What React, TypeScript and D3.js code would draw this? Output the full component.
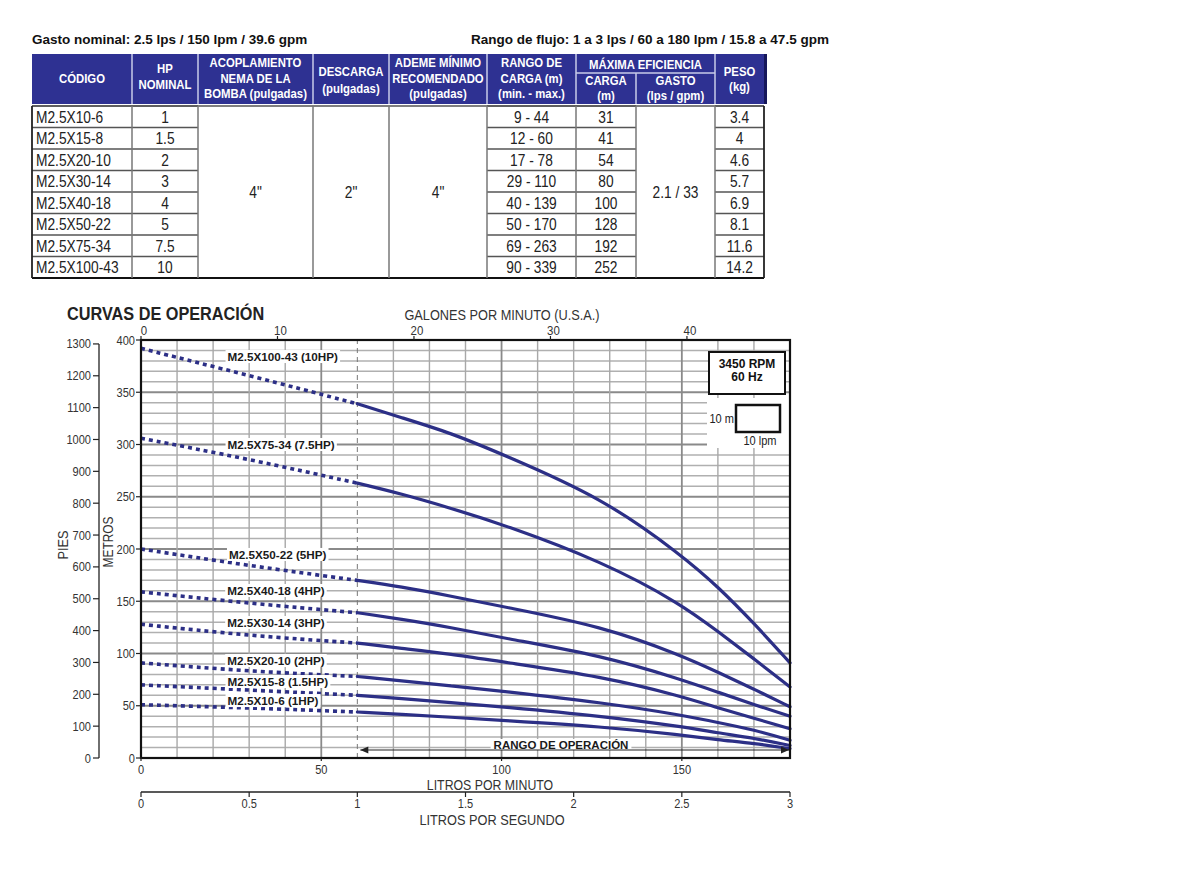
import React, { useEffect, useRef } from "react";
import * as d3 from "d3";

// ---------- table data ----------
const codes = ["M2.5X10-6", "M2.5X15-8", "M2.5X20-10", "M2.5X30-14", "M2.5X40-18", "M2.5X50-22", "M2.5X75-34", "M2.5X100-43"];
const hpNominal = ["1", "1.5", "2", "3", "4", "5", "7.5", "10"];
const rangoCarga = ["9 - 44", "12 - 60", "17 - 78", "29 - 110", "40 - 139", "50 - 170", "69 - 263", "90 - 339"];
const cargaMax = ["31", "41", "54", "80", "100", "128", "192", "252"];
const peso = ["3.4", "4", "4.6", "5.7", "6.9", "8.1", "11.6", "14.2"];
const acoplamiento = '4"';
const descarga = '2"';
const ademe = '4"';
const gastoMax = "2.1 / 33";

// ---------- curve data (flow in lpm, head in m) ----------
const flowLpm = [0, 30, 60, 72, 86, 100, 128, 150, 160, 170, 180];
const head1hp = [51, 48, 44, 42, 39, 36, 30, 22, 17.5, 14, 9];
const head15hp = [70, 65, 60, 57, 53, 49, 40, 30, 24, 19, 12];
const head2hp = [91, 83, 78, 74, 69, 64, 53, 41, 34, 27, 17];
const head3hp = [128, 117, 110, 105, 99.5, 92, 78, 59, 48, 38, 28];
const head4hp = [159, 148, 139, 133, 125, 115, 98, 75, 63, 51, 40];
const head5hp = [200, 184, 170, 164, 155, 145, 126, 98, 82, 66, 49];
const head75hp = [306, 286, 263, 253, 239, 224, 188, 147, 121, 95, 68];
const head10hp = [392, 366, 339, 326, 311, 291, 249, 194, 164, 129, 91];
const curveNames = ["M2.5X10-6 (1HP)", "M2.5X15-8 (1.5HP)", "M2.5X20-10 (2HP)", "M2.5X30-14 (3HP)", "M2.5X40-18 (4HP)", "M2.5X50-22 (5HP)", "M2.5X75-34 (7.5HP)", "M2.5X100-43 (10HP)"];
const opStartLpm = 60;

// ---------- axis ticks ----------
const lpmTicks = [0, 50, 100, 150];
const gpmTicks = [0, 10, 20, 30, 40];
const lpsTicks = [0, 0.5, 1, 1.5, 2, 2.5, 3];
const lpsTickLabels = ["0", "0.5", "1", "1.5", "2", "2.5", "3"];
const metrosTicks = [0, 50, 100, 150, 200, 250, 300, 350, 400];
const piesTicks = [0, 100, 200, 300, 400, 500, 600, 700, 800, 900, 1000, 1100, 1200, 1300];

// layout: label anchor (lpm, m) for each curve name
const labelAnchorLpm = [24, 24, 23.9, 23.9, 23.9, 24.4, 24, 24];
const labelAnchorM = [54.5, 72.7, 92.8, 129.2, 159.8, 194.3, 299.5, 383.7];

const NAVY = "#2c2f86";
const HEADER = "#2e3192";
const SANS = "'Liberation Sans', Arial, sans-serif";

type Opt = { size: number; weight?: string; anchor?: string; fill?: string; sx?: number; rot?: number };

export default function App() {
  const ref = useRef<SVGSVGElement | null>(null);

  useEffect(() => {
    const svg = d3.select(ref.current);
    svg.selectAll("*").remove();

    const txt = (parent: any, x: number, y: number, t: string, o: Opt) =>
      parent.append("text")
        .attr("transform", `translate(${x},${y})${o.rot ? ` rotate(${o.rot})` : ""} scale(${o.sx ?? 1},1)`)
        .attr("text-anchor", o.anchor ?? "middle")
        .attr("font-family", SANS)
        .attr("font-weight", o.weight ?? "normal")
        .attr("font-size", o.size)
        .attr("fill", o.fill ?? "#333")
        .text(t);

    // ================= TABLE =================
    const colX = [32, 132, 198, 313, 389, 487, 576, 636, 715, 764];
    const hTop = 54, hBot = 104, subY = 73, bTop = 106, rowH = 21.5;
    const bBot = bTop + rowH * codes.length;
    const cx = (i: number) => (colX[i] + colX[i + 1]) / 2;

    txt(svg, 32, 44, "Gasto nominal: 2.5 lps / 150 lpm / 39.6 gpm", { size: 13.5, weight: "bold", anchor: "start", fill: "#111" });
    txt(svg, 471, 44, "Rango de flujo: 1 a 3 lps / 60 a 180 lpm / 15.8 a 47.5 gpm", { size: 13.5, weight: "bold", anchor: "start", fill: "#111" });

    const tbl = svg.append("g");
    tbl.append("rect").attr("x", colX[0]).attr("y", hTop).attr("width", colX[9] - colX[0] + 3).attr("height", hBot - hTop).attr("fill", HEADER);
    tbl.append("rect").attr("x", colX[9]).attr("y", hTop).attr("width", 3).attr("height", hBot - hTop).attr("fill", "#16185a");
    for (let i = 1; i < 9; i++) {
      if (i === 7) continue;
      tbl.append("line").attr("x1", colX[i]).attr("x2", colX[i]).attr("y1", hTop).attr("y2", hBot).attr("stroke", "#c9cbe8").attr("stroke-width", 1.5);
    }
    tbl.append("line").attr("x1", colX[7]).attr("x2", colX[7]).attr("y1", subY).attr("y2", hBot).attr("stroke", "#c9cbe8").attr("stroke-width", 1.5);
    tbl.append("line").attr("x1", colX[6]).attr("x2", colX[8]).attr("y1", subY).attr("y2", subY).attr("stroke", "#c9cbe8").attr("stroke-width", 1.5);

    const hdr = (x: number, y: number, t: string) => txt(tbl, x, y, t, { size: 13.2, weight: "bold", fill: "#fff", sx: 0.86 });
    hdr(cx(0), 83, "CÓDIGO");
    hdr(cx(1), 73, "HP"); hdr(cx(1), 89, "NOMINAL");
    hdr(cx(2), 67, "ACOPLAMIENTO"); hdr(cx(2), 83, "NEMA DE LA"); hdr(cx(2), 98, "BOMBA (pulgadas)");
    hdr(cx(3), 76, "DESCARGA"); hdr(cx(3), 93, "(pulgadas)");
    hdr(cx(4), 67, "ADEME MÍNIMO"); hdr(cx(4), 83, "RECOMENDADO"); hdr(cx(4), 98, "(pulgadas)");
    hdr(cx(5), 67, "RANGO DE"); hdr(cx(5), 83, "CARGA (m)"); hdr(cx(5), 98, "(min. - max.)");
    hdr((colX[6] + colX[8]) / 2, 69, "MÁXIMA EFICIENCIA");
    hdr(cx(6), 85, "CARGA"); hdr(cx(6), 100, "(m)");
    hdr(cx(7), 85, "GASTO"); hdr(cx(7), 100, "(lps / gpm)");
    hdr(cx(8), 76, "PESO"); hdr(cx(8), 91, "(kg)");

    const lineC = "#555";
    const rowCols = [[0, 2], [5, 7], [8, 9]];
    for (let r = 0; r <= codes.length; r++) {
      const yy = bTop + r * rowH;
      rowCols.forEach(([a, b]) => {
        tbl.append("line").attr("x1", colX[a]).attr("x2", colX[b]).attr("y1", yy).attr("y2", yy).attr("stroke", lineC).attr("stroke-width", 1.3);
      });
    }
    tbl.append("line").attr("x1", colX[0]).attr("x2", colX[9]).attr("y1", bTop).attr("y2", bTop).attr("stroke", lineC).attr("stroke-width", 1.3);
    tbl.append("line").attr("x1", colX[0]).attr("x2", colX[9]).attr("y1", bBot).attr("y2", bBot).attr("stroke", "#111").attr("stroke-width", 2);
    for (let i = 0; i < 10; i++) {
      tbl.append("line").attr("x1", colX[i]).attr("x2", colX[i]).attr("y1", bTop).attr("y2", bBot)
        .attr("stroke", i === 0 || i === 9 ? "#222" : "#777").attr("stroke-width", i === 0 || i === 9 ? 1.8 : 1.5);
    }
    const cell = (x: number, y: number, t: string, anchor = "middle") => txt(tbl, x, y, t, { size: 16, anchor, fill: "#222", sx: 0.86 });
    codes.forEach((c, r) => {
      const yy = bTop + r * rowH + rowH / 2 + 6;
      cell(36, yy, c, "start");
      cell(cx(1), yy, hpNominal[r]);
      cell(cx(5), yy, rangoCarga[r]);
      cell(cx(6), yy, cargaMax[r]);
      cell(cx(8), yy, peso[r]);
    });
    const midY = (bTop + bBot) / 2 + 6;
    cell(cx(2), midY, acoplamiento);
    cell(cx(3), midY, descarga);
    cell(cx(4), midY, ademe);
    cell(cx(7), midY, gastoMax);

    // ================= CHART =================
    const x = d3.scaleLinear().domain([0, 180]).range([141, 790]);
    const y = d3.scaleLinear().domain([0, 400]).range([758, 340]);
    const yFt = d3.scaleLinear().domain([0, 400 * 3.28084]).range([758, 340]);
    const xGpm = (g: number) => x(g * 3.78541);
    const xLps = d3.scaleLinear().domain([0, 3]).range([141, 790]);
    const [x0, x1] = x.range();
    const [yB, yT] = y.range();

    const ch = svg.append("g");
    txt(ch, 67, 320, "CURVAS DE OPERACIÓN", { size: 17.5, weight: "bold", anchor: "start", fill: "#222", sx: 0.93 });

    // grid
    const grid = ch.append("g");
    d3.range(10, 400, 10).forEach((m) => {
      const major = m % 50 === 0;
      grid.append("line").attr("x1", x0).attr("x2", x1).attr("y1", y(m)).attr("y2", y(m))
        .attr("stroke", major ? "#8a8a8a" : "#b0b0b0").attr("stroke-width", major ? 2 : 1.5);
    });
    d3.range(10, 180, 10).forEach((q) => {
      if (q === opStartLpm) return;
      const major = q % 50 === 0;
      grid.append("line").attr("x1", x(q)).attr("x2", x(q)).attr("y1", yB).attr("y2", yT)
        .attr("stroke", major ? "#8a8a8a" : "#a8a8a8").attr("stroke-width", major ? 1.8 : 1.4);
    });
    grid.append("line").attr("x1", x(opStartLpm)).attr("x2", x(opStartLpm)).attr("y1", yB).attr("y2", yT)
      .attr("stroke", "#777").attr("stroke-width", 1).attr("stroke-dasharray", "5 4");

    // legend blocks
    ch.append("rect").attr("x", 707).attr("y", 398).attr("width", 82).attr("height", 50).attr("fill", "#fff");
    ch.append("rect").attr("x", 709).attr("y", 352).attr("width", 76).attr("height", 42).attr("fill", "#fff").attr("stroke", "#111").attr("stroke-width", 2);
    txt(ch, 747, 368, "3450 RPM", { size: 12, weight: "bold", fill: "#111" });
    txt(ch, 747, 381, "60 Hz", { size: 12, weight: "bold", fill: "#111" });
    ch.append("rect").attr("x", 736).attr("y", 405).attr("width", 44).attr("height", 27).attr("fill", "#fff").attr("stroke", "#111").attr("stroke-width", 2.5);
    txt(ch, 734, 423, "10 m", { size: 13, anchor: "end", fill: "#222", sx: 0.85 });
    txt(ch, 760, 445, "10 lpm", { size: 13, fill: "#222", sx: 0.85 });

    // curves
    const series = [head1hp, head15hp, head2hp, head3hp, head4hp, head5hp, head75hp, head10hp];
    const line = d3.line<[number, number]>().x((d) => x(d[0])).y((d) => y(d[1])).curve(d3.curveBasis);
    series.forEach((h) => {
      const pts: [number, number][] = flowLpm.map((f, i) => [f, h[i]]);
      const dotted = pts.filter((p) => p[0] <= opStartLpm);
      const solid = pts.filter((p) => p[0] >= opStartLpm);
      ch.append("path").attr("d", line(dotted) as string).attr("fill", "none").attr("stroke", NAVY)
        .attr("stroke-width", 3.6).attr("stroke-dasharray", "4 4");
      ch.append("path").attr("d", line(solid) as string).attr("fill", "none").attr("stroke", NAVY)
        .attr("stroke-width", 3.2).attr("stroke-linecap", "round");
    });

    // curve labels with white background
    curveNames.forEach((name, i) => {
      const g = ch.append("g");
      const t = g.append("text").attr("x", x(labelAnchorLpm[i])).attr("y", y(labelAnchorM[i]) + 4)
        .attr("font-family", SANS).attr("font-weight", "bold").attr("font-size", 11.7).attr("fill", "#1a1a1a").text(name);
      const bb = (t.node() as SVGTextElement).getBBox();
      g.insert("rect", "text").attr("x", bb.x - 2).attr("y", bb.y).attr("width", bb.width + 4).attr("height", bb.height).attr("fill", "#fff");
    });

    // operating range arrow
    const arrowY = 750;
    const rg = ch.append("g");
    const rt = rg.append("text").attr("x", 561).attr("y", 749).attr("text-anchor", "middle").attr("font-family", SANS).attr("font-weight", "bold")
      .attr("font-size", 11.5).attr("fill", "#1a1a1a").text("RANGO DE OPERACIÓN");
    const rbb = (rt.node() as SVGTextElement).getBBox();
    rg.insert("rect", "text").attr("x", rbb.x - 3).attr("y", rbb.y).attr("width", rbb.width + 6).attr("height", rbb.height - 1).attr("fill", "#fff");
    const ax0 = x(opStartLpm) + 3, ax1 = x(180) - 1;
    ch.append("line").attr("x1", ax0).attr("x2", ax1).attr("y1", arrowY).attr("y2", arrowY).attr("stroke", "#222").attr("stroke-width", 1.2);
    ch.append("path").attr("d", `M${ax0},${arrowY} l8,-3.5 l0,7 z`).attr("fill", "#222");
    ch.append("path").attr("d", `M${ax1},${arrowY} l-8,-3.5 l0,7 z`).attr("fill", "#222");

    // plot frame
    ch.append("rect").attr("x", x0).attr("y", yT).attr("width", x1 - x0).attr("height", yB - yT).attr("fill", "none").attr("stroke", "#111").attr("stroke-width", 2.2);

    // metros axis
    metrosTicks.forEach((m) => {
      ch.append("line").attr("x1", x0 - 5).attr("x2", x0).attr("y1", y(m)).attr("y2", y(m)).attr("stroke", "#222").attr("stroke-width", 1.2);
      txt(ch, x0 - 6, y(m) + 4.5, String(m), { size: 13.5, anchor: "end", sx: 0.82 });
    });
    // pies axis
    const pX = 99;
    ch.append("line").attr("x1", pX).attr("x2", pX).attr("y1", yFt(1300)).attr("y2", yFt(0)).attr("stroke", "#222").attr("stroke-width", 1.3);
    piesTicks.forEach((f) => {
      ch.append("line").attr("x1", pX - 6).attr("x2", pX).attr("y1", yFt(f)).attr("y2", yFt(f)).attr("stroke", "#222").attr("stroke-width", 1.2);
      txt(ch, pX - 8, yFt(f) + 4.5, String(f), { size: 13.5, anchor: "end", sx: 0.82 });
    });
    txt(ch, 68, 545, "PIES", { size: 15, rot: -90, sx: 0.85 });
    txt(ch, 113, 542, "METROS", { size: 14, rot: -90, sx: 0.85 });

    // top gpm axis
    gpmTicks.forEach((g) => {
      ch.append("line").attr("x1", xGpm(g)).attr("x2", xGpm(g)).attr("y1", yT - 4).attr("y2", yT).attr("stroke", "#222").attr("stroke-width", 1.2);
      txt(ch, xGpm(g) + 3, 335, String(g), { size: 13.5, sx: 0.85 });
    });
    txt(ch, 502, 320, "GALONES POR MINUTO (U.S.A.)", { size: 15, sx: 0.85 });

    // bottom lpm axis
    lpmTicks.forEach((q) => {
      ch.append("line").attr("x1", x(q)).attr("x2", x(q)).attr("y1", yB).attr("y2", yB + 3).attr("stroke", "#222").attr("stroke-width", 1.2);
      txt(ch, x(q), 774, String(q), { size: 13, sx: 0.85 });
    });
    txt(ch, 490, 790, "LITROS POR MINUTO", { size: 14.5, sx: 0.85 });

    // lps axis
    const lY = 792;
    ch.append("line").attr("x1", xLps(0)).attr("x2", xLps(3)).attr("y1", lY).attr("y2", lY).attr("stroke", "#222").attr("stroke-width", 1.3);
    lpsTicks.forEach((v, i) => {
      ch.append("line").attr("x1", xLps(v)).attr("x2", xLps(v)).attr("y1", lY).attr("y2", lY + 5).attr("stroke", "#222").attr("stroke-width", 1.2);
      txt(ch, xLps(v), 808, lpsTickLabels[i], { size: 13.5, sx: 0.82 });
    });
    txt(ch, 492, 825, "LITROS POR SEGUNDO", { size: 15, sx: 0.85 });
  }, []);

  return (
    <svg ref={ref} width={1200} height={886} style={{ position: "absolute", left: 0, top: 0, background: "#fff" }} />
  );
}
